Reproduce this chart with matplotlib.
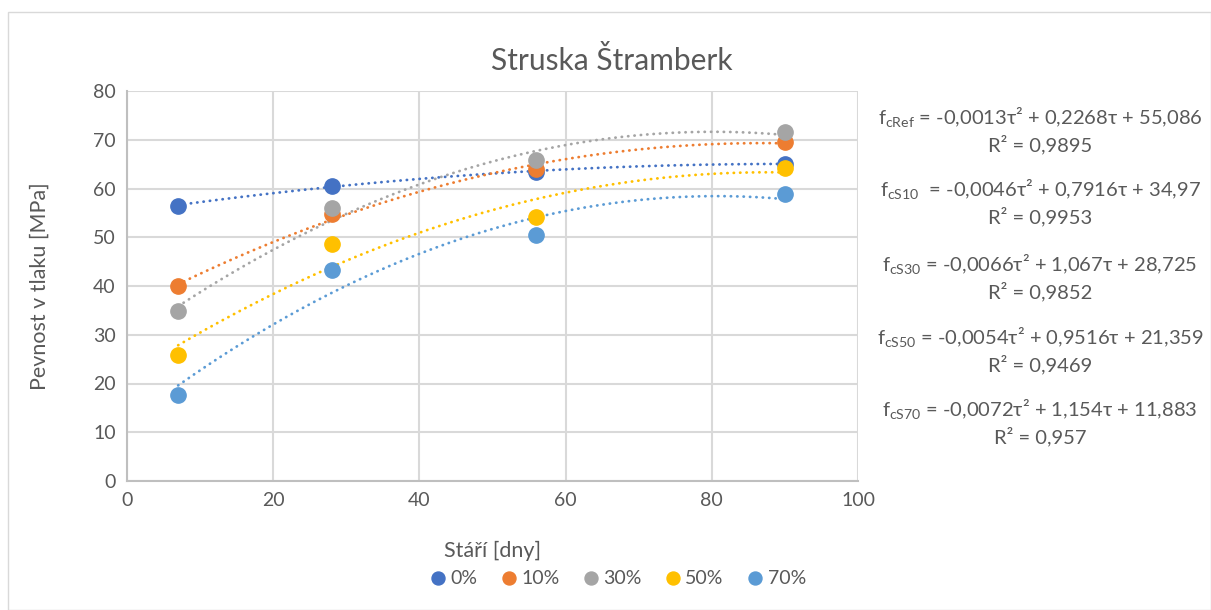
import numpy as np
import matplotlib.pyplot as plt
from matplotlib.patches import Rectangle

plt.rcParams['font.family'] = ['Lato', 'DejaVu Sans']
plt.rcParams['mathtext.fontset'] = 'custom'
plt.rcParams['mathtext.rm'] = 'Lato'

days = [7, 28, 56, 90]
labels = ["0%", "10%", "30%", "50%", "70%"]
s0 = [56.5, 60.6, 63.4, 65.1]
s10 = [39.9, 54.7, 64.1, 69.5]
s30 = [34.8, 55.9, 65.8, 71.5]
s50 = [25.8, 48.7, 54.1, 64.3]
s70 = [17.6, 43.3, 50.4, 58.8]
series = [s0, s10, s30, s50, s70]
colors = ["#4472C4", "#ED7D31", "#A5A5A5", "#FFC000", "#5B9BD5"]

equations = [
    (r"f$_{\mathrm{cRef}}$ = -0,0013τ² + 0,2268τ + 55,086", "R² = 0,9895"),
    (r"f$_{\mathrm{cS10}}$  = -0,0046τ² + 0,7916τ + 34,97", "R² = 0,9953"),
    (r"f$_{\mathrm{cS30}}$ = -0,0066τ² + 1,067τ + 28,725", "R² = 0,9852"),
    (r"f$_{\mathrm{cS50}}$ = -0,0054τ² + 0,9516τ + 21,359", "R² = 0,9469"),
    (r"f$_{\mathrm{cS70}}$ = -0,0072τ² + 1,154τ + 11,883", "R² = 0,957"),
]

txt = "#595959"

fig = plt.figure(figsize=(12.11, 6.10), dpi=100)
ax = fig.add_axes([127 / 1211, 1 - 481 / 610, (858 - 127) / 1211, (481 - 91) / 610])

fig.patches.append(Rectangle((8 / 1211, 0), 1 - 8 / 1211, 1 - 12 / 610,
                             transform=fig.transFigure, fill=False,
                             edgecolor="#D9D9D9", linewidth=1))

# trend lines (2nd order polynomial fits)
xs = np.linspace(days[0], days[-1], 200)
for vals, c in zip(series, colors):
    p = np.polyfit(days, vals, 2)
    ax.plot(xs, np.polyval(p, xs), color=c, linewidth=2.0,
            linestyle=(0, (0.1, 2.2)), dash_capstyle="round", zorder=2)

for vals, c, lab in zip(series, colors, labels):
    ax.plot(days, vals, "o", color=c, markersize=11, label=lab, zorder=3)

ax.set_xlim(0, 100)
ax.set_ylim(0, 80)
ax.set_xticks(range(0, 101, 20))
ax.set_yticks(range(0, 81, 10))
ax.grid(True, color="#D9D9D9", linewidth=1.5)
ax.set_axisbelow(True)
for s in ["top", "right"]:
    ax.spines[s].set_visible(False)
for s in ["left", "bottom"]:
    ax.spines[s].set_color("#BFBFBF")
    ax.spines[s].set_linewidth(1.5)
ax.tick_params(length=0, labelsize=14, colors=txt, pad=8)

fig.text(612 / 1211, 1 - 60 / 610, "Struska Štramberk", ha="center", va="center",
         fontsize=21.5, color=txt)
fig.text(40 / 1211, 1 - 286 / 610, "Pevnost v tlaku [MPa]", ha="center", va="center",
         rotation=90, fontsize=15.5, color=txt)
fig.text(493 / 1211, 1 - 551 / 610, "Stáří [dny]", ha="center", va="center",
         fontsize=15.5, color=txt)

eq_y = [118, 190, 265, 338, 410]
for (e, r), y in zip(equations, eq_y):
    fig.text(1040 / 1211, 1 - y / 610, e, ha="center", va="center", fontsize=14.5, color=txt)
    fig.text(1040 / 1211, 1 - (y + 27) / 610, r, ha="center", va="center", fontsize=14.5, color=txt)

fig.legend(loc="center", bbox_to_anchor=(616 / 1211, 1 - 579 / 610), ncol=5,
           frameon=False, fontsize=14, handletextpad=0.05, columnspacing=1.0,
           markerscale=0.85, labelcolor=txt, handlelength=1.2)

fig.savefig("out.png", dpi=100)
